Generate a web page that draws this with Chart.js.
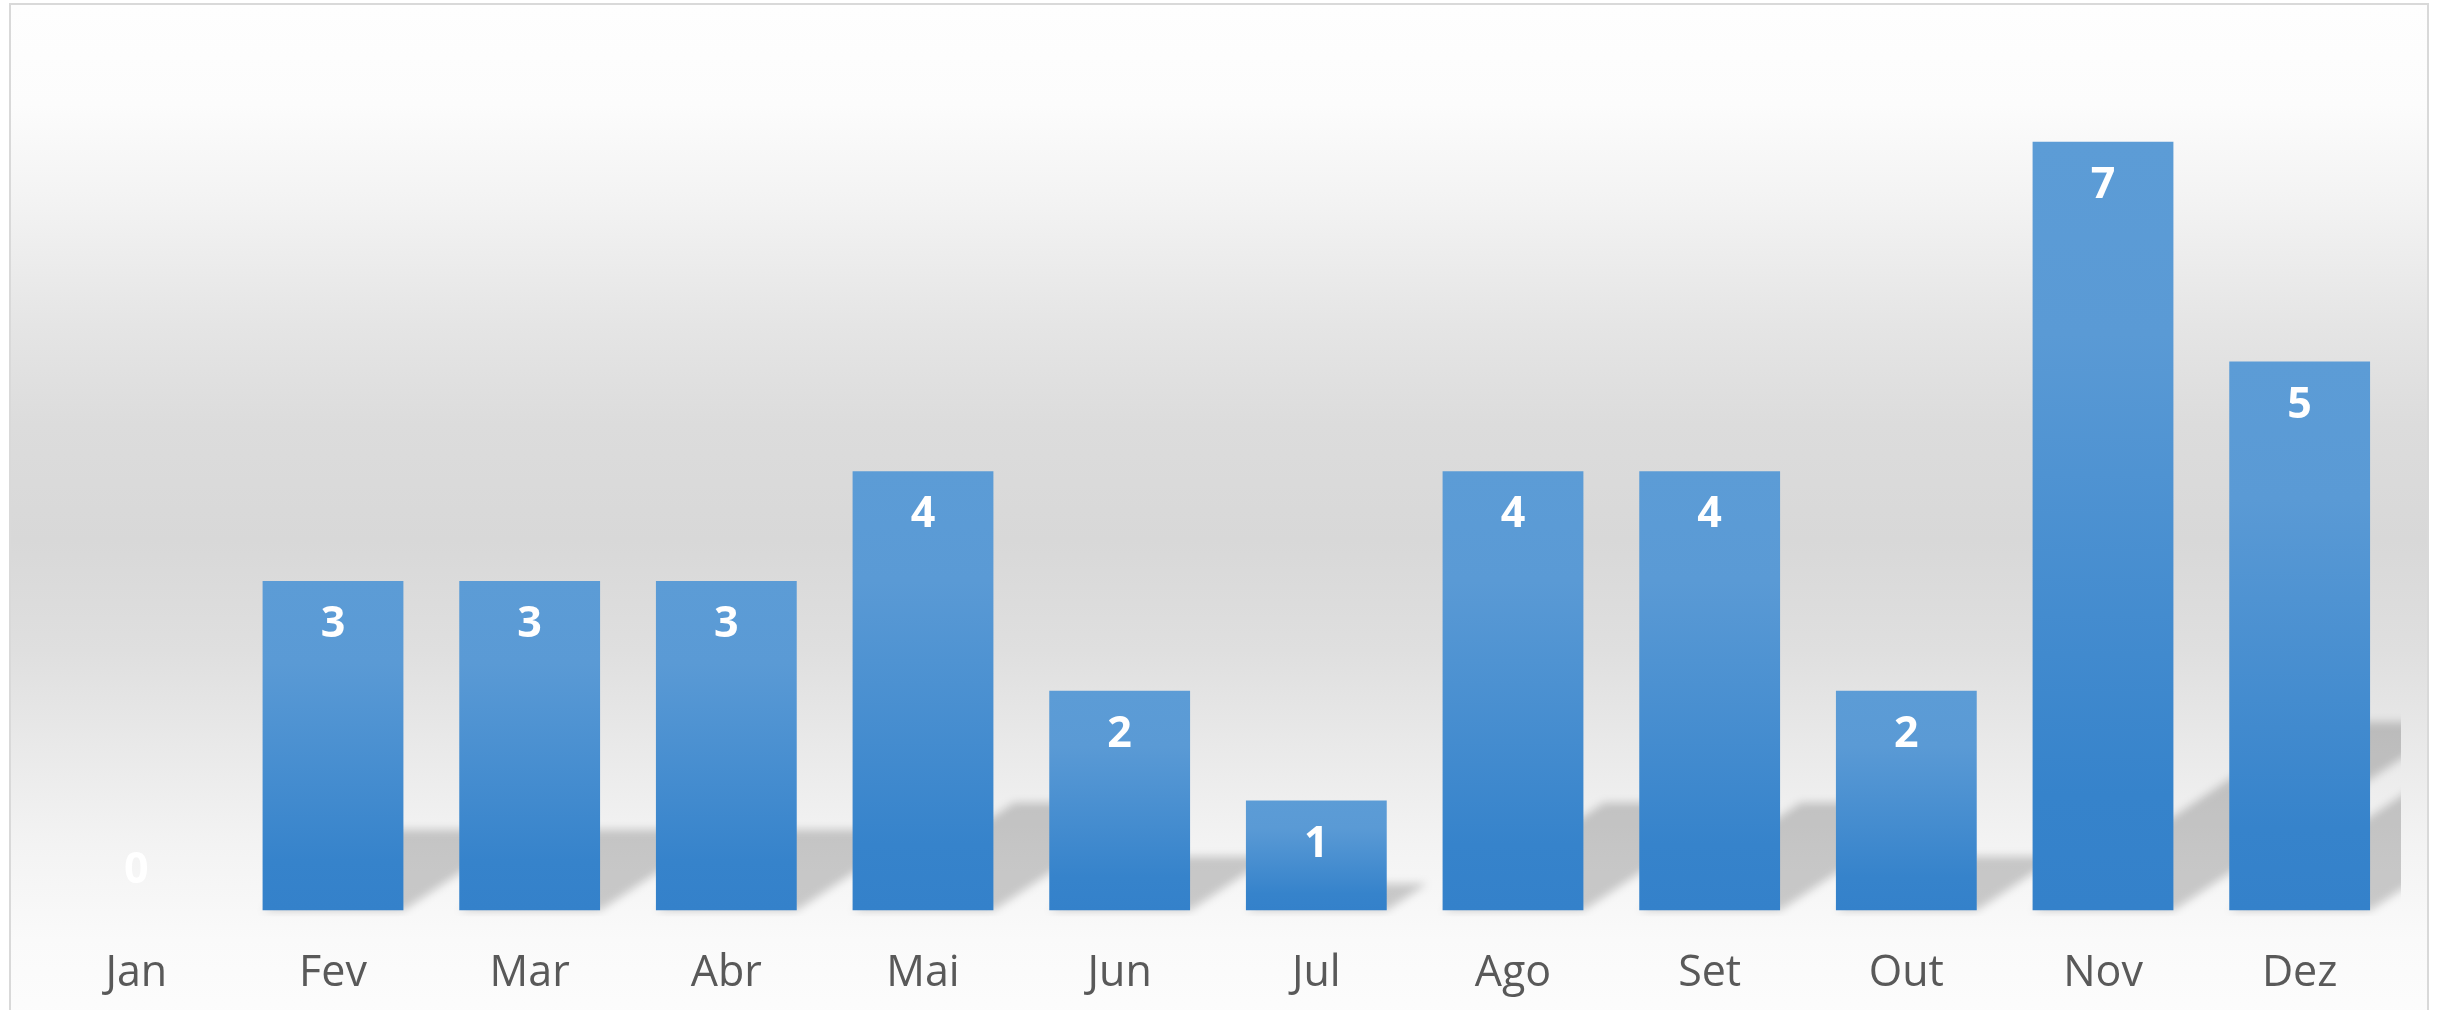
<!DOCTYPE html>
<html>
<head>
<meta charset="utf-8">
<title>Vendas por mês</title>
<script src="https://cdn.jsdelivr.net/npm/chart.js@4/dist/chart.umd.min.js"></script>
<style>
  html, body {
    margin: 0;
    padding: 0;
    width: 2438px;
    height: 1010px;
    overflow: hidden;
    background: #ffffff;
  }
  /* riquadro del grafico con sfondo sfumato */
  #box {
    position: absolute;
    left: 9px;
    top: 3px;
    width: 2420px;
    height: 1030px;
    box-sizing: border-box;
    border: 2px solid #d9d9d9;
    background: linear-gradient(to bottom,
      #fefefe 0px,
      #fcfcfc 100px,
      #f3f3f3 195px,
      #e5e5e5 320px,
      #dcdcdc 420px,
      #d8d8d8 535px,
      #dfdfdf 645px,
      #e9e9e9 740px,
      #f3f3f3 840px,
      #fafafa 935px,
      #fdfdfd 1030px);
  }
  /* l'area del canvas esce un po' sotto la finestra, come nell'originale */
  #wrap {
    position: absolute;
    left: 0;
    top: 0;
    width: 2438px;
    height: 1052px;
  }
</style>
</head>
<body>
<div id="box"></div>
<div id="wrap"><canvas id="bar_graph"></canvas></div>

<script>
// dati
var months = ["Jan", "Fev", "Mar", "Abr", "Mai", "Jun", "Jul", "Ago", "Set", "Out", "Nov", "Dez"];
var values = [0, 3, 3, 3, 4, 2, 1, 4, 4, 2, 7, 5];
var yMax = 8;

//funzione per il colore sfumato di ogni barra
function barColor(context) {
  var chart = context.chart;
  if (!chart.chartArea) {
    return "#4a8fd0";
  }
  var yScale = chart.scales.y;
  var top = yScale.getPixelForValue(context.raw);
  var base = yScale.getPixelForValue(0);
  if (base - top < 1) {
    return "#4a8fd0";
  }
  var g = chart.ctx.createLinearGradient(0, top, 0, base);
  g.addColorStop(0, "#5c9cd6");
  g.addColorStop(0.25, "#5a9ad5");
  g.addColorStop(0.85, "#3683cb");
  g.addColorStop(1, "#3481ca");
  return g;
}

//ombra prospettica dietro le barre
var shadowPlugin = {
  id: "perspectiveShadow",
  beforeDatasetsDraw: function(chart) {
    var ctx = chart.ctx;
    var area = chart.chartArea;
    var bars = chart.getDatasetMeta(0).data;

    ctx.save();
    ctx.beginPath();
    ctx.rect(area.left, area.top, area.right - area.left + 3, area.bottom - area.top + 6);
    ctx.clip();

    ctx.filter = "blur(4px)";
    ctx.fillStyle = "rgba(0, 0, 0, 0.19)";
    ctx.beginPath();
    for (var i = 0; i < bars.length; i++) {
      var b = bars[i];
      var h = (b.base - b.y) * 0.245;
      if (h <= 0) {
        continue;
      }
      var dx = h * 1.5;
      var x0 = b.x - b.width / 2;
      var x1 = b.x + b.width / 2;
      ctx.moveTo(x0, b.base);
      ctx.lineTo(x1, b.base);
      ctx.lineTo(x1 + dx, b.base - h);
      ctx.lineTo(x0 + dx, b.base - h);
      ctx.closePath();
    }
    ctx.fill();
    ctx.restore();
  }
};

//etichette bianche dentro la barra
var labelPlugin = {
  id: "barLabels",
  afterDatasetsDraw: function(chart) {
    var ctx = chart.ctx;
    var bars = chart.getDatasetMeta(0).data;
    var data = chart.data.datasets[0].data;

    ctx.save();
    ctx.font = "bold 43px 'Open Sans'";
    ctx.fillStyle = "#ffffff";
    ctx.textAlign = "center";
    ctx.textBaseline = "middle";
    for (var i = 0; i < bars.length; i++) {
      var b = bars[i];
      var y = Math.min(b.y + 44, b.base - 40);
      ctx.fillText(String(data[i]), b.x, y);
    }
    ctx.restore();
  }
};

var ctxBar = document.getElementById("bar_graph").getContext("2d");

var barGraph = new Chart(ctxBar, {
  type: "bar",
  data: {
    labels: months,
    datasets: [{
      data: values,
      backgroundColor: barColor,
      borderWidth: 0,
      categoryPercentage: 1,
      barPercentage: 0.716
    }]
  },
  options: {
    responsive: true,
    maintainAspectRatio: false,
    animation: false,
    layout: {
      padding: { left: 38, right: 40, top: 32, bottom: 14 }
    },
    plugins: {
      legend: { display: false },
      tooltip: { enabled: false }
    },
    scales: {
      x: {
        grid: { display: false, drawTicks: false },
        border: { display: false },
        ticks: {
          color: "#595959",
          padding: 38,
          font: { family: "'Open Sans'", size: 43 }
        }
      },
      y: {
        display: false,
        min: 0,
        max: yMax
      }
    }
  },
  plugins: [shadowPlugin, labelPlugin]
});
</script>
</body>
</html>
